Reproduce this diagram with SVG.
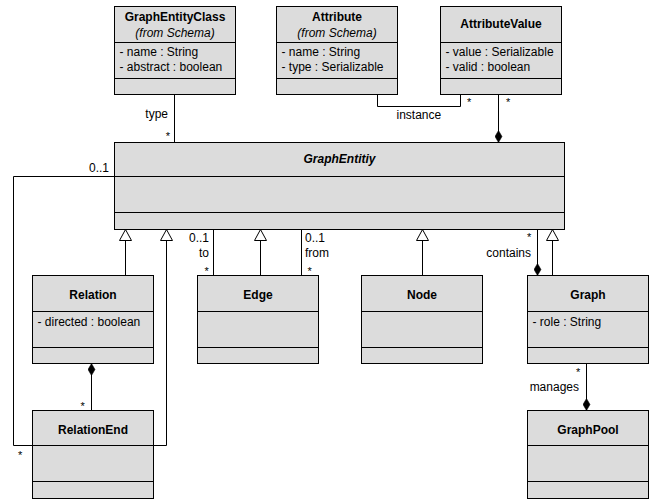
<svg xmlns="http://www.w3.org/2000/svg" width="660" height="501" viewBox="0 0 660 501">
<style>
.box{fill:#dcdcdc;stroke:#000;stroke-width:1}
.div{stroke:#000;stroke-width:1;fill:none}
text{font-family:"Liberation Sans",Arial,sans-serif;font-size:12px;fill:#000}
.t{font-weight:bold;text-anchor:middle}
.ti{font-weight:bold;font-style:italic;text-anchor:middle}
.s{font-style:italic;text-anchor:middle}
.m{font-size:11px}
.e{text-anchor:end}
.c{stroke:#000;stroke-width:1;fill:none}
.gen{marker-end:url(#tri)}
.comp{marker-end:url(#dia)}
</style>
<defs>
<marker id="tri" viewBox="-1 -1 13 14" refX="11" refY="6" markerWidth="13" markerHeight="14" markerUnits="userSpaceOnUse" orient="auto">
<path d="M0,0 L11,6 L0,12 Z" fill="#fff" stroke="#000" stroke-width="1"/>
</marker>
<marker id="dia" viewBox="0 0 12 8" refX="12" refY="4" markerWidth="12" markerHeight="8" markerUnits="userSpaceOnUse" orient="auto">
<path d="M0,4 L6,0.5 L12,4 L6,7.5 Z" fill="#000" stroke="#000" stroke-width="0.5"/>
</marker>
</defs>

<g id="connectors">
<path class="c" d="M174.5 94.5 V142.5"/>
<path class="c" d="M377.5 94.5 V106.5 H460.5 V94.5"/>
<path class="c comp" d="M498.5 94.5 V142.5"/>
<path class="c" d="M114.5 176.5 H13.5 V445.5 H32.5"/>
<path class="c gen" d="M125.5 275.5 V229.5"/>
<path class="c gen" d="M153.5 445.5 H166.5 V229.5"/>
<path class="c" d="M213.5 229.5 V275.5"/>
<path class="c gen" d="M260.5 275.5 V229.5"/>
<path class="c" d="M301.5 229.5 V275.5"/>
<path class="c gen" d="M422.5 275.5 V229.5"/>
<path class="c comp" d="M537.5 229.5 V275.5"/>
<path class="c gen" d="M552.5 275.5 V229.5"/>
<path class="c comp" d="M91.5 410.5 V363.5"/>
<path class="c comp" d="M586.5 363.5 V410.5"/>
<text x="168" y="118" class="e">type</text>
<text x="170" y="140" class="m e">*</text>
<text x="396.5" y="119">instance</text>
<text x="467" y="106" class="m">*</text>
<text x="506" y="106" class="m">*</text>
<text x="109" y="172" class="e">0..1</text>
<text x="18" y="459" class="m">*</text>
<text x="189" y="242">0..1</text>
<text x="199" y="257">to</text>
<text x="204.5" y="275" class="m">*</text>
<text x="305" y="242">0..1</text>
<text x="305" y="257">from</text>
<text x="307.5" y="275" class="m">*</text>
<text x="527" y="241" class="m">*</text>
<text x="531" y="257" class="e">contains</text>
<text x="80.5" y="410" class="m">*</text>
<text x="576" y="376" class="m">*</text>
<text x="579" y="391" class="e">manages</text>
</g>

<g id="GraphEntityClass">
<rect class="box" x="114.5" y="6.5" width="121" height="88"/>
<path class="div" d="M114.5 42.5 H235.5 M114.5 78.5 H235.5"/>
<text x="175" y="21" class="t">GraphEntityClass</text>
<text x="175" y="37" class="s">(from Schema)</text>
<text x="119.5" y="56">- name : String</text>
<text x="119.5" y="71">- abstract : boolean</text>
</g>

<g id="Attribute">
<rect class="box" x="276.5" y="6.5" width="121" height="88"/>
<path class="div" d="M276.5 42.5 H397.5 M276.5 78.5 H397.5"/>
<text x="337" y="21" class="t">Attribute</text>
<text x="337" y="37" class="s">(from Schema)</text>
<text x="281.5" y="56">- name : String</text>
<text x="281.5" y="71">- type : Serializable</text>
</g>

<g id="AttributeValue">
<rect class="box" x="440.5" y="6.5" width="121" height="88"/>
<path class="div" d="M440.5 42.5 H561.5 M440.5 78.5 H561.5"/>
<text x="501" y="28" class="t">AttributeValue</text>
<text x="445.5" y="56">- value : Serializable</text>
<text x="445.5" y="71">- valid : boolean</text>
</g>

<g id="GraphEntity">
<rect class="box" x="114.5" y="142.5" width="450" height="87"/>
<path class="div" d="M114.5 176.5 H564.5 M114.5 212.5 H564.5"/>
<text x="339.5" y="163" class="ti">GraphEntitiy</text>
</g>

<g id="Relation">
<rect class="box" x="32.5" y="275.5" width="121" height="88"/>
<path class="div" d="M32.5 311.5 H153.5 M32.5 347.5 H153.5"/>
<text x="93" y="299" class="t">Relation</text>
<text x="37.5" y="326">- directed : boolean</text>
</g>

<g id="Edge">
<rect class="box" x="197.5" y="275.5" width="121" height="88"/>
<path class="div" d="M197.5 311.5 H318.5 M197.5 347.5 H318.5"/>
<text x="258" y="299" class="t">Edge</text>
</g>

<g id="Node">
<rect class="box" x="361.5" y="275.5" width="121" height="88"/>
<path class="div" d="M361.5 311.5 H482.5 M361.5 347.5 H482.5"/>
<text x="422" y="299" class="t">Node</text>
</g>

<g id="Graph">
<rect class="box" x="527.5" y="275.5" width="121" height="88"/>
<path class="div" d="M527.5 311.5 H648.5 M527.5 347.5 H648.5"/>
<text x="588" y="299" class="t">Graph</text>
<text x="532.5" y="326">- role : String</text>
</g>

<g id="RelationEnd">
<rect class="box" x="32.5" y="410.5" width="121" height="88"/>
<path class="div" d="M32.5 445.5 H153.5 M32.5 481.5 H153.5"/>
<text x="93" y="433.5" class="t">RelationEnd</text>
</g>

<g id="GraphPool">
<rect class="box" x="527.5" y="410.5" width="121" height="88"/>
<path class="div" d="M527.5 445.5 H648.5 M527.5 481.5 H648.5"/>
<text x="588" y="433.5" class="t">GraphPool</text>
</g>
</svg>
